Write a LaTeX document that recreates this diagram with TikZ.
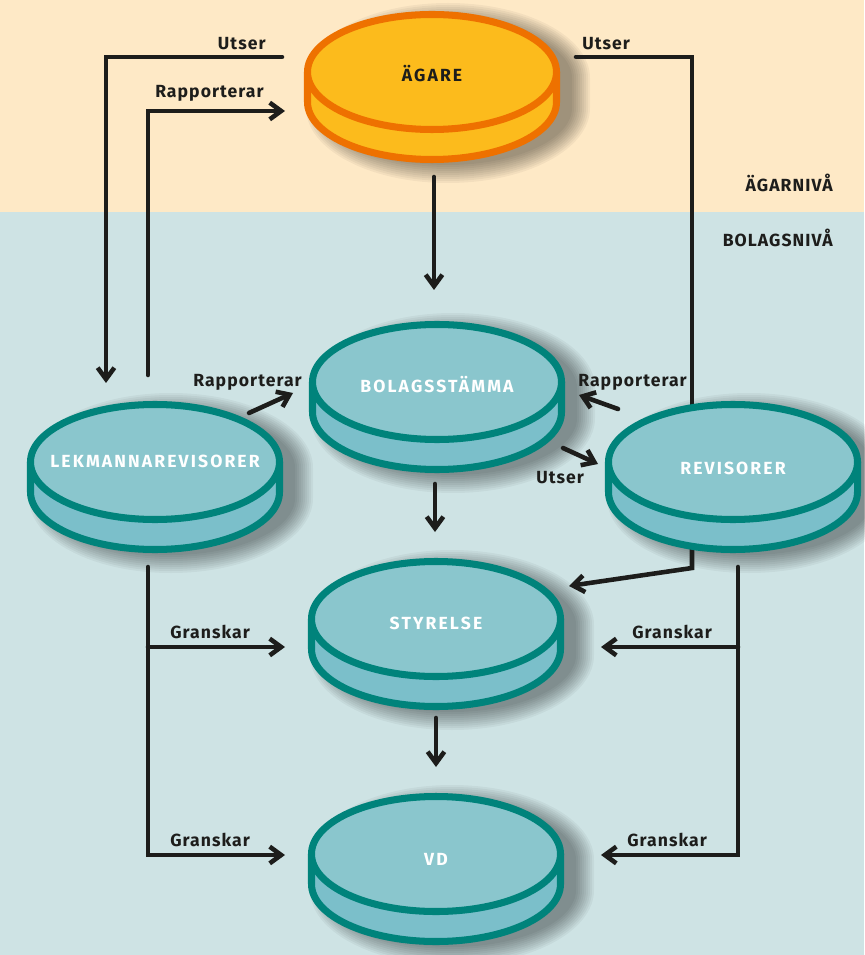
\documentclass[tikz,border=0pt]{standalone}
\usepackage{fontspec}
\setmainfont{Fira Sans}
\newfontfamily\lblfont[LetterSpace=6]{Fira Sans}
\newfontfamily\diskfont[LetterSpace=12]{Fira Sans}
\usetikzlibrary{arrows.meta,calc}
\definecolor{cream}{HTML}{FEE9C6}
\definecolor{tealbg}{HTML}{CEE3E4}
\definecolor{disktop}{HTML}{8AC6CD}
\definecolor{diskside}{HTML}{7BBFCA}
\definecolor{diskline}{HTML}{00837B}
\definecolor{orangeline}{HTML}{EE7100}
\definecolor{yellowfill}{HTML}{FCBB1C}
\definecolor{ink}{HTML}{1D1D1B}
\pgfdeclarelayer{bands}
\pgfdeclarelayer{shad}
\pgfdeclarelayer{conns}
\pgfdeclarelayer{disks}
\pgfsetlayers{bands,shad,conns,disks,main}
\newcommand\dtext[2]{\smash{\raisebox{#1}{#2}}}
\newcommand\drawdisk[4]{%
  \begin{pgfonlayer}{shad}
    \begin{scope}[shift={(#1)}]
      \foreach \s in {-4,-2,...,14} {
        \fill[black, opacity=0.045, shift={(16,6)}]
          (-128-\s,0) arc[start angle=180,end angle=360,x radius=128+\s,y radius=61+\s]
          -- (128+\s,30) arc[start angle=0,end angle=180,x radius=128+\s,y radius=61+\s] -- cycle;
      }
    \end{scope}
  \end{pgfonlayer}
  \begin{pgfonlayer}{disks}
    \begin{scope}[shift={(#1)}]
      \filldraw[fill=#3, draw=#4, line width=4pt, line join=round]
        (-124.5,0) -- (-124.5,30) arc[start angle=180,end angle=0,x radius=124.5,y radius=57.5]
        -- (124.5,0) -- cycle;
      \filldraw[fill=#2, draw=#4, line width=4pt]
        (0,0) ellipse [x radius=124.5, y radius=57.5];
    \end{scope}
  \end{pgfonlayer}%
}
\begin{document}
\begin{tikzpicture}[x=0.02cm, y=-0.02cm,
  conn/.style={draw=ink, line width=2.6pt, line cap=round, line join=miter},
  arr/.style={conn, -{Straight Barb[length=6.5pt, width=9.5pt]}},
  lbl/.style={font=\lblfont\bfseries\fontsize{10}{12}\selectfont, text=ink, inner sep=0pt},
  disklbl/.style={font=\diskfont\bfseries\fontsize{10}{12}\selectfont, inner sep=0pt},
]
\useasboundingbox (0,0) rectangle (864,955);
\begin{pgfonlayer}{bands}
  \fill[cream] (0,0) rectangle (864,212);
  \fill[tealbg] (0,212) rectangle (864,955);
\end{pgfonlayer}

% disk nodes (text)
\node[disklbl, text=ink] (agare) at (432,72) {\dtext{-5.2pt}{ÄGARE}};
\node[disklbl, text=white] (bolag) at (437,382) {\dtext{-5.8pt}{BOLAGSSTÄMMA}};
\node[disklbl, text=white] (lekm) at (155,462) {\dtext{-2.9pt}{LEKMANNAREVISORER}};
\node[disklbl, text=white] (revis) at (733,462) {\dtext{-6.9pt}{REVISORER}};
\node[disklbl, text=white] (styr) at (436,619) {\dtext{-5.8pt}{STYRELSE}};
\node[disklbl, text=white] (vd) at (436,854) {\dtext{-6.3pt}{VD}};

\drawdisk{agare}{yellowfill}{yellowfill}{orangeline}
\drawdisk{bolag}{disktop}{diskside}{diskline}
\drawdisk{lekm}{disktop}{diskside}{diskline}
\drawdisk{revis}{disktop}{diskside}{diskline}
\drawdisk{styr}{disktop}{diskside}{diskline}
\drawdisk{vd}{disktop}{diskside}{diskline}

\begin{pgfonlayer}{conns}
  \draw[arr] ($(agare)+(-150,-15)$) -| ($(lekm)+(-49,-79)$);
  \draw[arr] ($(lekm)+(-7,-87)$) |- ($(agare)+(-147,39)$);
  \draw[conn] ($(agare)+(144,-15)$) -| ($(revis)+(-41,0)$);
  \draw[arr] ($(revis)+(-41,0)$) -- ($(revis)+(-41,106)$) -- ($(styr)+(133,-33)$);
  \draw[arr] ($(agare)+(2,105)$) -- ($(bolag)+(-3,-92)$);
  \draw[arr] ($(bolag)+(-2,102)$) -- ($(styr)+(-1,-87)$);
  \draw[arr] ($(styr)+(0,99)$) -- ($(vd)+(0,-87)$);
  \draw[arr] ($(lekm)+(94,-49)$) -- ($(bolag)+(-144,11)$);
  \draw[arr] ($(revis)+(-115,-53)$) -- ($(bolag)+(142,13)$);
  \draw[arr] ($(bolag)+(126,66)$) -- ($(revis)+(-135,2)$);
  \coordinate (gl) at ($(lekm)+(-7,185)$);
  \coordinate (gr) at ($(revis)+(5,185)$);
  \draw[arr] ($(lekm)+(-7,105)$) |- ($(vd)+(-151,1)$);
  \draw[arr] (gl) -- ($(styr)+(-151,28)$);
  \draw[arr] ($(revis)+(5,105)$) |- ($(vd)+(165,1)$);
  \draw[arr] (gr) -- ($(styr)+(165,28)$);
\end{pgfonlayer}

% connector labels
\node[lbl, anchor=base east] (t1) at (266,50) {Utser};
\node[lbl, anchor=base east] (t2) at (264,98) {Rapporterar};
\node[lbl, anchor=base west] (t3) at (582,50) {Utser};
\node[lbl, anchor=base west] (t4) at (193,387) {Rapporterar};
\node[lbl, anchor=base west] (t5) at (578,387) {Rapporterar};
\node[lbl, anchor=base west] (t6) at (536,483) {Utser};
\node[lbl, anchor=base west] (t7) at (170,638) {Granskar};
\node[lbl, anchor=base west] (t8) at (170,846) {Granskar};
\node[lbl, anchor=base west] (t9) at (632,638) {Granskar};
\node[lbl, anchor=base west] (t10) at (627,846) {Granskar};
\node[lbl, anchor=base east] (lv1) at (833,192) {ÄGARNIVÅ};
\node[lbl, anchor=base east] (lv2) at (833,247) {BOLAGSNIVÅ};
\end{tikzpicture}
\end{document}
